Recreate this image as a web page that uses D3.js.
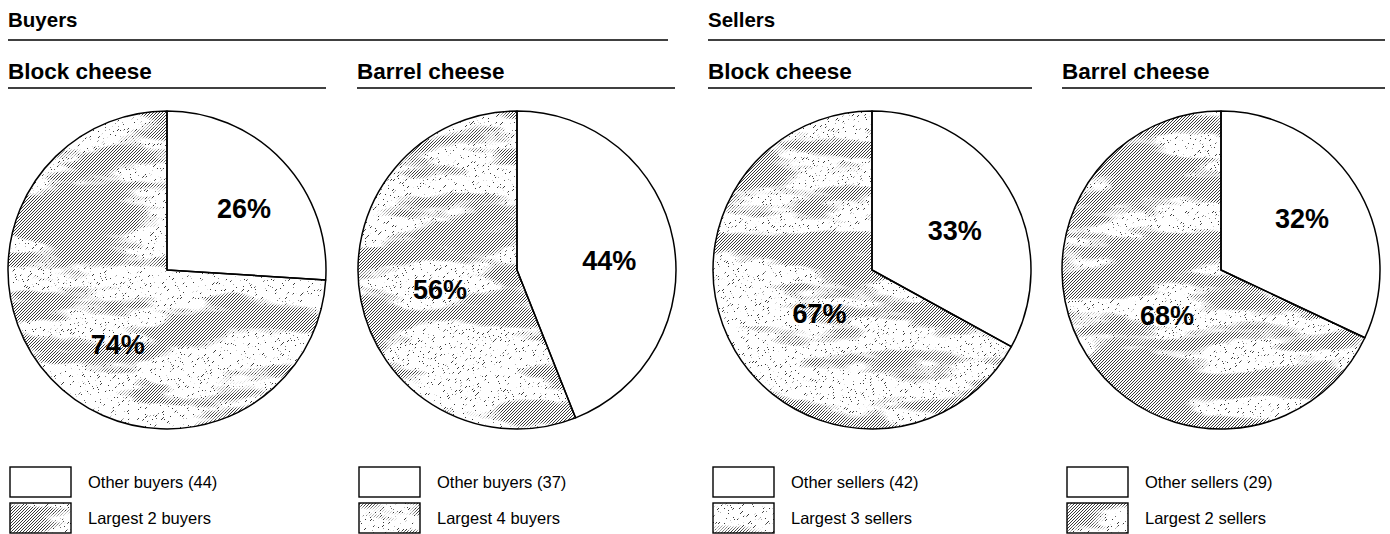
<!DOCTYPE html>
<html>
<head>
<meta charset="utf-8">
<script src="https://cdn.jsdelivr.net/npm/d3@7"></script>
<style>
  html, body { margin: 0; padding: 0; background: #fff; }
  svg { display: block; font-family: "Liberation Sans", Arial, Helvetica, sans-serif; }
</style>
</head>
<body>
<svg id="chart" width="1390" height="534"></svg>
<script>
// Market concentration of cheese trading: share held by the largest traders
const sections = ["Buyers", "Sellers"];
const products = ["Block cheese", "Barrel cheese", "Block cheese", "Barrel cheese"];
const otherShare = [26, 44, 33, 32];
const largestShare = [74, 56, 67, 68];
const otherLabels = ["Other buyers (44)", "Other buyers (37)", "Other sellers (42)", "Other sellers (29)"];
const largestLabels = ["Largest 2 buyers", "Largest 4 buyers", "Largest 3 sellers", "Largest 2 sellers"];

// Layout
const W = 1390, H = 534;
const sectionX = [[8, 668], [708, 1385]];
const panelX = [[8, 326], [357, 675], [708, 1032], [1062, 1385]];
const pieCx = [167, 517, 872, 1221];
const pieCy = 270, R = 159;
// label anchors relative to pie centre, in units of radius: [other, largest]
const labelAnchor = [
  [[0.485, -0.33], [-0.31, 0.53]],
  [[0.58, 0.0], [-0.485, 0.18]],
  [[0.52, -0.19], [-0.33, 0.335]],
  [[0.51, -0.265], [-0.34, 0.345]]
];
// texture density per panel: threshold for the dark streaks (lower = darker)
const streakThreshold = [0.48, 0.48, 0.48, 0.455];

const svg = d3.select("#chart");
const defs = svg.append("defs");

// diagonal hatch used for the shaded slices
defs.append("pattern")
  .attr("id", "hatch")
  .attr("patternUnits", "userSpaceOnUse")
  .attr("width", 3).attr("height", 3)
  .append("path")
  .attr("d", "M-1,1 L1,-1 M0,3 L3,0 M2,4 L4,2")
  .attr("stroke", "#3a3a3a")
  .attr("stroke-width", 1.2)
  .attr("shape-rendering", "crispEdges");

// mottled mask per panel: horizontal streaks plus scattered specks
panelX.forEach((px, i) => {
  const f = defs.append("filter")
    .attr("id", "mottle" + i)
    .attr("filterUnits", "userSpaceOnUse")
    .attr("x", 0).attr("y", 0).attr("width", W).attr("height", H)
    .attr("color-interpolation-filters", "sRGB");
  const opaque = "1 0 0 0 0  0 1 0 0 0  0 0 1 0 0  0 0 0 0 1";
  f.append("feTurbulence")
    .attr("type", "fractalNoise")
    .attr("baseFrequency", "0.0075 0.03")
    .attr("numOctaves", 4)
    .attr("seed", 3 + i * 11)
    .attr("result", "lo0");
  f.append("feColorMatrix").attr("in", "lo0").attr("type", "matrix").attr("values", opaque).attr("result", "lo1");
  const t = streakThreshold[i];
  f.append("feComponentTransfer").attr("in", "lo1").attr("result", "lo2")
    .append("feFuncR").attr("type", "linear").attr("slope", 12).attr("intercept", -12 * t);
  f.append("feTurbulence")
    .attr("type", "fractalNoise")
    .attr("baseFrequency", "0.4 0.28")
    .attr("numOctaves", 1)
    .attr("seed", 7 + i * 5)
    .attr("result", "hi0");
  f.append("feColorMatrix").attr("in", "hi0").attr("type", "matrix").attr("values", opaque).attr("result", "hi1");
  f.append("feComponentTransfer").attr("in", "hi1").attr("result", "hi2")
    .append("feFuncR").attr("type", "linear").attr("slope", 16).attr("intercept", -16 * 0.6);
  f.append("feBlend").attr("in", "lo2").attr("in2", "hi2").attr("mode", "lighten").attr("result", "u");
  f.append("feColorMatrix").attr("in", "u").attr("type", "matrix")
    .attr("values", "1 0 0 0 0  1 0 0 0 0  1 0 0 0 0  0 0 0 0 1");

  defs.append("mask")
    .attr("id", "mask" + i)
    .attr("maskUnits", "userSpaceOnUse")
    .attr("x", 0).attr("y", 0).attr("width", W).attr("height", H)
    .append("rect")
    .attr("x", 0).attr("y", 0).attr("width", W).attr("height", H)
    .attr("fill", "white")
    .attr("filter", `url(#mottle${i})`);
});

// section headers
sections.forEach((s, k) => {
  svg.append("text")
    .attr("x", sectionX[k][0]).attr("y", 27)
    .attr("font-size", 20.5).attr("font-weight", "bold")
    .attr("fill", "#000")
    .text(s);
  svg.append("line")
    .attr("x1", sectionX[k][0]).attr("x2", sectionX[k][1])
    .attr("y1", 40).attr("y2", 40)
    .attr("stroke", "#000").attr("stroke-width", 1.6);
});

const pie = d3.pie().sort(null).value(d => d.v);
const arc = d3.arc().innerRadius(0).outerRadius(R);

products.forEach((p, i) => {
  const g = svg.append("g");
  // panel title
  g.append("text")
    .attr("x", panelX[i][0]).attr("y", 79)
    .attr("font-size", 22.5).attr("font-weight", "bold")
    .attr("fill", "#000")
    .text(p);
  g.append("line")
    .attr("x1", panelX[i][0]).attr("x2", panelX[i][1])
    .attr("y1", 88).attr("y2", 88)
    .attr("stroke", "#000").attr("stroke-width", 1.6);

  const data = [
    { v: otherShare[i], shaded: false },
    { v: largestShare[i], shaded: true }
  ];
  const arcs = pie(data);

  // white base
  const base = g.append("g").attr("transform", `translate(${pieCx[i]},${pieCy})`);
  arcs.forEach(a => base.append("path").attr("d", arc(a)).attr("fill", "#fff"));

  // shaded slice: hatch seen through the mottled mask (mask applied in page coordinates)
  const shade = g.append("g").attr("mask", `url(#mask${i})`)
    .append("g").attr("transform", `translate(${pieCx[i]},${pieCy})`);
  arcs.filter(a => a.data.shaded).forEach(a => {
    shade.append("path").attr("d", arc(a)).attr("fill", "url(#hatch)");
  });

  // outlines on top
  const og = g.append("g").attr("transform", `translate(${pieCx[i]},${pieCy})`);
  arcs.forEach(a => {
    og.append("path").attr("d", arc(a))
      .attr("fill", "none").attr("stroke", "#000").attr("stroke-width", 1.5)
      .attr("stroke-linejoin", "round");
  });
  // percentage labels
  arcs.forEach((a, j) => {
    const an = labelAnchor[i][j];
    og.append("text")
      .attr("x", an[0] * R).attr("y", an[1] * R)
      .attr("text-anchor", "middle")
      .attr("font-size", 27).attr("font-weight", "bold")
      .attr("fill", "#000")
      .text(a.data.v + "%");
  });

  // legend
  const bx = panelX[i][0] + (i >= 2 ? 5 : 2);
  const bw = 61, bh = 30;
  const rows = [
    { y: 467, label: otherLabels[i], shaded: false },
    { y: 503, label: largestLabels[i], shaded: true }
  ];
  rows.forEach(r => {
    g.append("rect")
      .attr("x", bx).attr("y", r.y).attr("width", bw).attr("height", bh)
      .attr("fill", "#fff");
    if (r.shaded) {
      g.append("g").attr("mask", `url(#mask${i})`)
        .append("rect")
        .attr("x", bx).attr("y", r.y).attr("width", bw).attr("height", bh)
        .attr("fill", "url(#hatch)");
    }
    g.append("rect")
      .attr("x", bx).attr("y", r.y).attr("width", bw).attr("height", bh)
      .attr("fill", "none").attr("stroke", "#000").attr("stroke-width", 1.4);
    g.append("text")
      .attr("x", bx + bw + 17).attr("y", r.y + 21)
      .attr("font-size", 16.5)
      .attr("fill", "#000")
      .text(r.label);
  });
});
</script>
</body>
</html>
